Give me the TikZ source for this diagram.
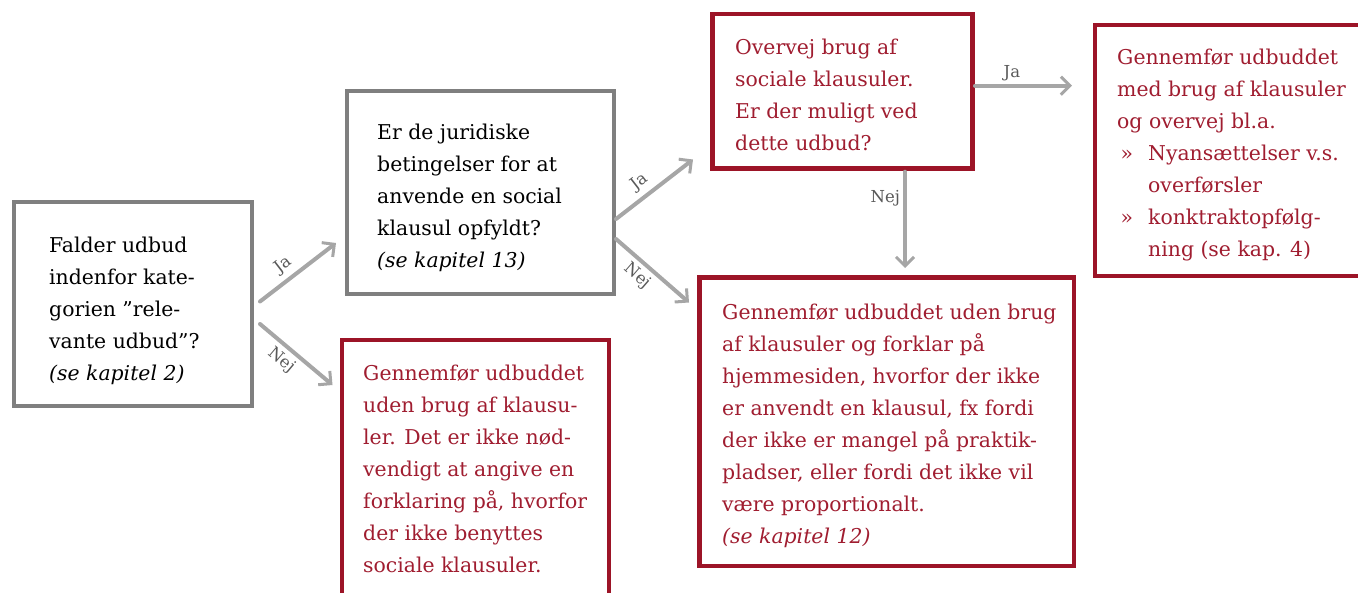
\documentclass[tikz,border=0pt]{standalone}
\usepackage{fontspec}
\setmainfont{DejaVu Serif}
\usetikzlibrary{arrows.meta}
\definecolor{boxgray}{HTML}{7F7F7F}
\definecolor{arrgray}{HTML}{A6A6A6}
\definecolor{darkred}{HTML}{9C1427}
\definecolor{txtred}{HTML}{A01D30}
\definecolor{lblgray}{HTML}{595959}
\tikzset{
  graybox/.style={draw=boxgray, line width=4pt, fill=white},
  redbox/.style={draw=darkred, line width=4.5pt, fill=white},
  bodytext/.style={anchor=base west, align=left, inner sep=0pt,
    font={\fontsize{20.4}{32}\selectfont}},
  blacktext/.style={bodytext, text=black},
  redtext/.style={bodytext, text=txtred},
  flow/.style={draw=arrgray, line width=4pt, line cap=round,
    -{Straight Barb[length=9pt, width=18pt, line width=3pt]}},
  lbl/.style={text=lblgray, font={\fontsize{16.5}{18}\selectfont}, inner sep=2pt}
}
\begin{document}
\begin{tikzpicture}[x=1pt, y=-1pt]
\useasboundingbox (0,0) rectangle (1358,592);
% boxes
\draw[graybox] (13.5,201.5) rectangle (251.5,406) node[pos=0, anchor=north west, inner sep=0pt] (A) {};
\draw[graybox] (346.5,91) rectangle (613.5,293.5) node[pos=0, anchor=north west, inner sep=0pt] (B) {};
\draw[redbox] (712.5,14) rectangle (972.5,168.5) node[pos=0, anchor=north west, inner sep=0pt] (C) {};
\draw[redbox] (1095,25) rectangle (1368,276) node[pos=0, anchor=north west, inner sep=0pt] (D) {};
\draw[redbox] (342,340) rectangle (609,600) node[pos=0, anchor=north west, inner sep=0pt] (E) {};
\draw[redbox] (699.5,277.5) rectangle (1074,566) node[pos=0, anchor=north west, inner sep=0pt] (F) {};
% texts (anchored at the baseline of the last line)
\node[blacktext] (At) at (49,380) {Falder udbud\\indenfor kate-\\gorien ”rele-\\vante udbud”?\\\textit{(se kapitel 2)}};
\node[blacktext] (Bt) at (377,267) {Er de juridiske\\betingelser for at\\anvende en social\\klausul opfyldt?\\\textit{(se kapitel 13)}};
\node[redtext] (Ct) at (735,150) {Overvej brug af\\sociale klausuler.\\Er der muligt ved\\dette udbud?};
\node[redtext] (Dt) at (1117,256) {Gennemfør udbuddet\\med brug af klausuler\\og overvej bl.a.\\\makebox[31pt][l]{\,»}Nyansættelser v.s.\\\hspace*{31pt}overførsler\\\makebox[31pt][l]{\,»}konktraktopfølg-\\\hspace*{31pt}ning (se kap. 4)};
\node[redtext] (Et) at (363,572) {Gennemfør udbuddet\\uden brug af klausu-\\ler. Det er ikke nød-\\vendigt at angive en\\forklaring på, hvorfor\\der ikke benyttes\\sociale klausuler.};
\node[redtext] (Ft) at (722,543) {Gennemfør udbuddet uden brug\\af klausuler og forklar på\\hjemmesiden, hvorfor der ikke\\er anvendt en klausul, fx fordi\\der ikke er mangel på praktik-\\pladser, eller fordi det ikke vil\\være proportionalt.\\\textit{(se kapitel 12)}};
% connector end points
\coordinate (a1) at (260,301.5);
\coordinate (b1) at (336,243);
\coordinate (a2) at (260,324);
\coordinate (e1) at (332.5,385);
\coordinate (b2) at (616,219);
\coordinate (c1) at (693,159.5);
\coordinate (b3) at (616,239);
\coordinate (f1) at (689,302.5);
\coordinate (c2) at (975,85.7);
\coordinate (d1) at (1072,85.7);
\coordinate (c3) at (905,171.7);
\coordinate (f2) at (905,268);
% connectors
\draw[flow] (a1) -- node[lbl, sloped, above=3pt, pos=0.42] {Ja} (b1);
\draw[flow] (a2) -- node[lbl, sloped, below=2pt, pos=0.42] {Nej} (e1);
\draw[flow] (b2) -- node[lbl, sloped, above=3pt, pos=0.42] {Ja} (c1);
\draw[flow] (b3) -- node[lbl, sloped, below=2pt, pos=0.42] {Nej} (f1);
\draw[flow] (c2) -- node[lbl, above=1pt, pos=0.38] {Ja} (d1);
\draw[flow] (c3) -- node[lbl, left=1pt, pos=0.28] {Nej} (f2);
\end{tikzpicture}
\end{document}
